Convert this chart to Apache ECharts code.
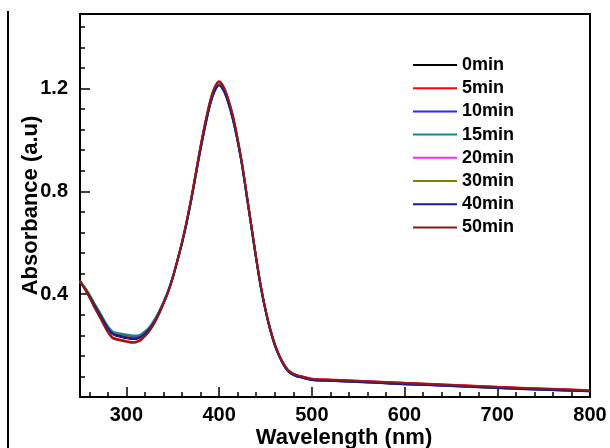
<!DOCTYPE html>
<html>
<head>
<meta charset="utf-8">
<script src="https://cdn.jsdelivr.net/npm/echarts@6/dist/echarts.min.js"></script>
<style>html,body{margin:0;padding:0;background:#fff}#c{width:610px;height:448px}</style>
</head>
<body>
<div id="c"></div>
<script>
// Wavelength (nm)
var wavelengths = [250,255,260,265,270,275,280,285,290,295,300,305,310,315,320,325,330,335,340,345,350,355,360,365,370,375,380,385,390,395,400,405,410,415,420,425,430,435,440,445,450,455,460,465,470,475,480,485,490,500,525,550,575,600,650,700,750,800];

var seriesNames = ['0min','5min','10min','15min','20min','30min','40min','50min'];

var abs0min = [0.450,0.425,0.395,0.362,0.330,0.297,0.265,0.244,0.237,0.233,0.229,0.226,0.226,0.232,0.246,0.265,0.292,0.326,0.366,
0.410,0.465,0.530,0.600,0.680,0.770,0.870,0.970,1.060,1.140,1.195,1.220,1.198,1.150,1.085,1.000,0.900,0.780,0.660,0.540,0.430,0.340,0.265,0.205,0.160,0.125,0.100,0.088,0.081,0.077,
0.068,0.064,0.060,0.056,0.052,0.045,0.037,0.030,0.024];
var abs5min = [0.452,0.422,0.390,0.355,0.322,0.288,0.255,0.232,0.226,0.222,0.218,0.214,0.215,0.222,0.238,0.259,0.287,0.322,0.363,
0.408,0.464,0.531,0.602,0.684,0.775,0.876,0.977,1.067,1.148,1.203,1.228,1.206,1.158,1.093,1.005,0.904,0.784,0.663,0.542,0.432,0.342,0.267,0.207,0.162,0.127,0.103,0.091,0.084,0.080,
0.071,0.067,0.063,0.059,0.055,0.048,0.040,0.033,0.026];
var abs10min = [0.448,0.426,0.398,0.366,0.335,0.303,0.272,0.252,0.245,0.242,0.239,0.236,0.235,0.240,0.253,0.271,0.297,0.330,0.369,
0.412,0.466,0.530,0.599,0.678,0.767,0.866,0.965,1.054,1.134,1.189,1.214,1.192,1.144,1.079,0.996,0.896,0.777,0.657,0.537,0.428,0.338,0.263,0.203,0.158,0.123,0.098,0.086,0.079,0.075,
0.066,0.062,0.058,0.054,0.050,0.043,0.035,0.028,0.022];
var abs15min = [0.446,0.427,0.400,0.368,0.338,0.306,0.276,0.256,0.249,0.246,0.243,0.240,0.239,0.243,0.256,0.273,0.299,0.331,0.370,
0.413,0.467,0.531,0.600,0.679,0.768,0.867,0.966,1.056,1.136,1.191,1.216,1.194,1.146,1.081,0.997,0.897,0.778,0.658,0.538,0.429,0.339,0.264,0.204,0.159,0.124,0.099,0.087,0.080,0.076,
0.067,0.063,0.059,0.055,0.051,0.044,0.036,0.029,0.023];
var abs20min = [0.449,0.424,0.394,0.361,0.330,0.298,0.267,0.246,0.240,0.236,0.232,0.229,0.229,0.235,0.248,0.267,0.293,0.327,0.367,
0.411,0.466,0.531,0.601,0.682,0.772,0.872,0.973,1.063,1.144,1.199,1.224,1.202,1.154,1.089,1.002,0.902,0.782,0.661,0.541,0.431,0.341,0.266,0.206,0.161,0.126,0.101,0.089,0.082,0.078,
0.069,0.065,0.061,0.057,0.053,0.046,0.038,0.031,0.025];
var abs30min = [0.451,0.428,0.399,0.366,0.334,0.302,0.270,0.249,0.242,0.238,0.234,0.231,0.230,0.236,0.249,0.268,0.294,0.328,0.367,
0.411,0.465,0.530,0.600,0.680,0.770,0.869,0.969,1.059,1.139,1.194,1.219,1.197,1.149,1.084,0.999,0.899,0.779,0.659,0.539,0.429,0.339,0.264,0.204,0.159,0.124,0.099,0.087,0.080,0.076,
0.067,0.063,0.059,0.055,0.051,0.044,0.036,0.029,0.023];
var abs40min = [0.447,0.423,0.394,0.362,0.331,0.299,0.268,0.247,0.240,0.236,0.232,0.229,0.228,0.234,0.247,0.266,0.292,0.326,0.365,
0.409,0.464,0.529,0.598,0.677,0.766,0.865,0.964,1.053,1.133,1.188,1.213,1.191,1.143,1.078,0.995,0.895,0.776,0.656,0.536,0.427,0.337,0.262,0.202,0.157,0.122,0.098,0.086,0.079,0.075,
0.066,0.062,0.058,0.054,0.050,0.043,0.035,0.028,0.022];
var abs50min = [0.453,0.421,0.388,0.352,0.319,0.285,0.252,0.229,0.223,0.219,0.215,0.211,0.212,0.219,0.236,0.257,0.286,0.321,0.362,
0.408,0.464,0.531,0.602,0.683,0.774,0.875,0.976,1.066,1.147,1.202,1.227,1.205,1.157,1.092,1.004,0.903,0.783,0.662,0.541,0.431,0.341,0.266,0.206,0.161,0.126,0.102,0.090,0.083,0.079,
0.070,0.066,0.062,0.058,0.054,0.047,0.039,0.032,0.025];

var xMajorTicks = [300,400,500,600,700,800];
var xMinorTicks = [260,280,320,340,360,380,420,440,460,480,520,540,560,580,620,640,660,680,720,740,760,780];
var yMajorTicks = [0.4,0.8,1.2];
var yMinorTicks = [0.08,0.16,0.24,0.32,0.48,0.56,0.64,0.72,0.88,0.96,1.04,1.12,1.28,1.36,1.44];

var allValues = [abs0min,abs5min,abs10min,abs15min,abs20min,abs30min,abs40min,abs50min];
var colors = ['#000000','#ff0000','#2a2aff','#138a8a','#ff22ff','#808000','#1a1a8a','#8b1a1a'];

var FONT = 'Liberation Sans, Arial, Helvetica, sans-serif';
var chart = echarts.init(document.getElementById('c'), null, {renderer:'canvas'});

var series = seriesNames.map(function(name, i){
  return {
    name: name, type: 'line', xAxisIndex: 0, yAxisIndex: 0,
    data: wavelengths.map(function(w, j){ return [w, allValues[i][j]]; }),
    showSymbol: false, symbol: 'none', smooth: 0.25,
    lineStyle: {color: colors[i], width: 2},
    itemStyle: {color: colors[i]},
    animation: false
  };
});

chart.setOption({
  backgroundColor: '#ffffff',
  animation: false,
  color: colors,
  grid: {left: 80, right: 20, top: 14, bottom: 51, show: true, borderColor: '#000', borderWidth: 2,
    containLabel: false, outerBoundsMode: 'none'},
  legend: {
    orient: 'vertical', left: 413, top: 56, padding: 0,
    itemWidth: 44, itemHeight: 2, itemGap: 5.2, icon: 'rect',
    textStyle: {fontFamily: FONT, fontWeight: 'bold', fontSize: 18, color: '#000'},
    data: seriesNames
  },
  xAxis: [{
    type: 'value', min: 250, max: 800, position: 'bottom',
    axisLine: {show: true, lineStyle: {color: '#000', width: 2}},
    axisTick: {show: true, inside: true, length: 10, customValues: xMajorTicks, lineStyle: {color: '#000', width: 1.5}},
    axisLabel: {show: true, customValues: xMajorTicks, margin: 8, fontFamily: FONT, fontWeight: 'bold', fontSize: 20, color: '#000'},
    splitLine: {show: false},
    name: 'Wavelength (nm)', nameLocation: 'middle', nameGap: 30, nameMoveOverlap: false,
    nameTextStyle: {fontFamily: FONT, fontWeight: 'bold', fontSize: 22, color: '#000', padding: [0,0,0,18]}
  },{
    type: 'value', min: 250, max: 800, position: 'bottom',
    axisLine: {show: false},
    axisTick: {show: true, inside: true, length: 5, customValues: xMinorTicks, lineStyle: {color: '#000', width: 1.5}},
    axisLabel: {show: false}, splitLine: {show: false}
  }],
  yAxis: [{
    type: 'value', min: 0, max: 1.49, position: 'left',
    axisLine: {show: true, lineStyle: {color: '#000', width: 2}},
    axisTick: {show: true, inside: true, length: 10, customValues: yMajorTicks, lineStyle: {color: '#000', width: 1.5}},
    axisLabel: {show: true, customValues: yMajorTicks, margin: 12, fontFamily: FONT, fontWeight: 'bold', fontSize: 20, color: '#000',
      formatter: function(v){ return v.toFixed(1); }},
    splitLine: {show: false},
    name: 'Absorbance (a.u)', nameLocation: 'middle', nameGap: 38, nameRotate: 90, nameMoveOverlap: false,
    nameTextStyle: {fontFamily: FONT, fontWeight: 'bold', fontSize: 22, color: '#000'}
  },{
    type: 'value', min: 0, max: 1.49, position: 'left',
    axisLine: {show: false},
    axisTick: {show: true, inside: true, length: 5, customValues: yMinorTicks, lineStyle: {color: '#000', width: 1.5}},
    axisLabel: {show: false}, splitLine: {show: false}
  }],
  graphic: [{
    type: 'line', shape: {x1: 8, y1: 11, x2: 8, y2: 448},
    style: {stroke: '#000', lineWidth: 2}, silent: true
  }],
  series: series
});
</script>
</body>
</html>
